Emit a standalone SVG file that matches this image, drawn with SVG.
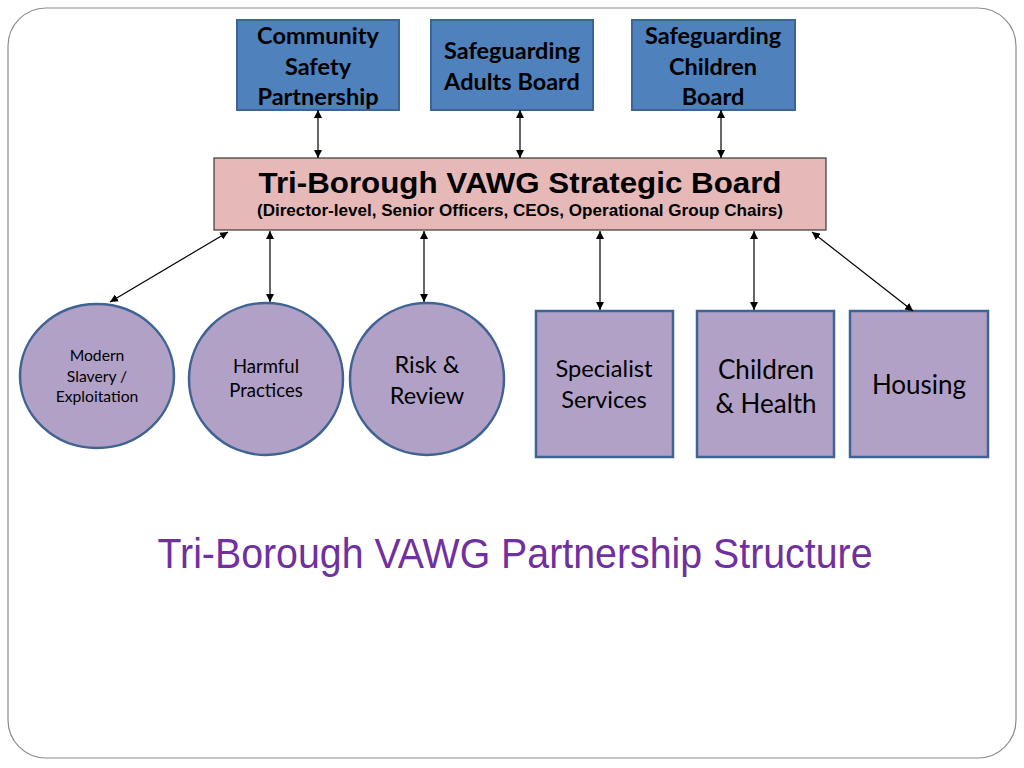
<svg xmlns="http://www.w3.org/2000/svg" width="1024" height="768" viewBox="0 0 1024 768">
<defs>
<marker id="ah" viewBox="0 0 10 10" refX="10" refY="5" markerWidth="8" markerHeight="8" orient="auto-start-reverse" markerUnits="userSpaceOnUse">
<path d="M0,0 L10,5 L0,10 z" fill="#000"/>
</marker>
<style>
.top{fill:#4f81bd;stroke:#3b6596;stroke-width:2}
.low{fill:#b2a1c7;stroke:#3f6393;stroke-width:2.5}
.tt{font-family:Lato,"Liberation Sans",sans-serif;font-weight:bold;font-size:23.5px;fill:#000;text-anchor:middle}
.lt{font-family:Lato,"Liberation Sans",sans-serif;fill:#000;text-anchor:middle}
.ar{font-family:"Liberation Sans",Arial,sans-serif}
.cn line{stroke:#000;stroke-width:1.2;marker-start:url(#ah);marker-end:url(#ah)}
</style>
</defs>
<rect x="8" y="8" width="1008" height="750" rx="38" fill="#fff" stroke="#8c8c8c" stroke-width="1.2"/>

<g id="csp"><rect class="top" x="237" y="20" width="162" height="90"/>
<text class="tt" x="318" y="44">Community</text><text class="tt" x="318" y="75">Safety</text><text class="tt" x="318" y="105">Partnership</text></g>
<g id="sab"><rect class="top" x="431" y="20" width="162" height="90"/>
<text class="tt" x="512" y="59">Safeguarding</text><text class="tt" x="512" y="90">Adults Board</text></g>
<g id="scb"><rect class="top" x="632" y="20" width="163" height="90"/>
<text class="tt" x="713" y="44">Safeguarding</text><text class="tt" x="713" y="75">Children</text><text class="tt" x="713" y="105">Board</text></g>

<g id="board"><rect x="214" y="158" width="612" height="72" fill="#e6b9b8" stroke="#3a3a3a" stroke-width="1.2"/>
<text class="ar" x="520" y="193" font-weight="bold" font-size="30" text-anchor="middle" fill="#000" textLength="523" lengthAdjust="spacingAndGlyphs">Tri-Borough VAWG Strategic Board</text>
<text class="ar" x="520" y="216" font-weight="bold" font-size="16" text-anchor="middle" fill="#000" textLength="526" lengthAdjust="spacingAndGlyphs">(Director-level, Senior Officers, CEOs, Operational Group Chairs)</text></g>

<g id="modern"><ellipse class="low" cx="97" cy="376" rx="77" ry="72"/>
<text class="lt" font-size="15.7" x="97" y="361">Modern</text><text class="lt" font-size="15.7" x="97" y="382">Slavery /</text><text class="lt" font-size="15.7" x="97" y="402">Exploitation</text></g>
<g id="harmful"><ellipse class="low" cx="266" cy="379" rx="77" ry="76"/>
<text class="lt" font-size="18.5" x="266" y="373">Harmful</text><text class="lt" font-size="18.5" x="266" y="397">Practices</text></g>
<g id="risk"><ellipse class="low" cx="427" cy="379" rx="77" ry="76"/>
<text class="lt" font-size="23.5" x="427" y="373">Risk &amp;</text><text class="lt" font-size="23.5" x="427" y="404">Review</text></g>
<g id="specialist"><rect class="low" x="536" y="311" width="137" height="146"/>
<text class="lt" font-size="23.7" x="604" y="377">Specialist</text><text class="lt" font-size="23.7" x="604" y="408">Services</text></g>
<g id="children"><rect class="low" x="697" y="311" width="137" height="146"/>
<text class="lt" font-size="26" x="766" y="379">Children</text><text class="lt" font-size="26" x="766" y="413">&amp; Health</text></g>
<g id="housing"><rect class="low" x="850" y="311" width="138" height="146"/>
<text class="lt" font-size="26" x="919" y="394">Housing</text></g>

<g id="connectors" class="cn">
<line x1="318" y1="110" x2="318" y2="158"/>
<line x1="520" y1="110" x2="520" y2="158"/>
<line x1="721" y1="110" x2="721" y2="158"/>
<line x1="228" y1="232" x2="110" y2="302"/>
<line x1="270" y1="231" x2="270" y2="302"/>
<line x1="424" y1="231" x2="424" y2="302"/>
<line x1="600" y1="231" x2="600" y2="310"/>
<line x1="754" y1="231" x2="754" y2="310"/>
<line x1="812" y1="232" x2="913" y2="311"/>
</g>

<text class="ar" x="515" y="568" font-size="42" fill="#7030a0" text-anchor="middle" textLength="715" lengthAdjust="spacingAndGlyphs">Tri-Borough VAWG Partnership Structure</text>
</svg>
